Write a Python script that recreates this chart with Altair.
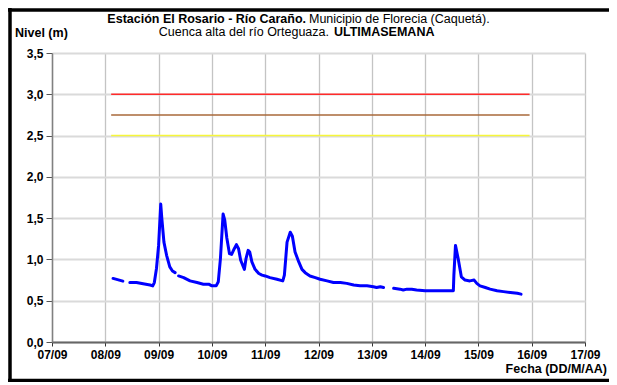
import altair as alt
import pandas as pd

# Time in days of September (e.g. 8.5 = 08/09 12:00), level in metres
seg1_t = [8.145, 8.33]
seg1_v = [0.77, 0.737]
seg2_t = [8.46, 8.585, 8.71, 8.84, 8.89, 8.92, 8.96, 9.0, 9.04, 9.06, 9.10, 9.15, 9.21, 9.26, 9.31]
seg2_v = [0.72, 0.72, 0.705, 0.69, 0.68, 0.72, 0.89, 1.17, 1.67, 1.50, 1.21, 1.05, 0.91, 0.86, 0.84]
seg3_t = [9.375, 9.47, 9.59, 9.72, 9.84, 9.94, 10.0, 10.08, 10.12, 10.16, 10.21, 10.24, 10.28, 10.33,
          10.37, 10.42, 10.46, 10.5, 10.54, 10.61, 10.64, 10.68, 10.71, 10.75, 10.81, 10.88, 10.94,
          11.0, 11.09, 11.22, 11.33, 11.36, 11.41, 11.47, 11.51, 11.56, 11.63, 11.69, 11.75, 11.84,
          11.94, 12.03, 12.16, 12.28, 12.41, 12.53, 12.66, 12.78, 12.91, 13.03, 13.09, 13.16, 13.22]
seg3_v = [0.80, 0.78, 0.74, 0.72, 0.70, 0.70, 0.68, 0.68, 0.73, 1.01, 1.55, 1.48, 1.26, 1.07,
          1.06, 1.13, 1.18, 1.13, 0.99, 0.88, 1.01, 1.11, 1.09, 0.97, 0.88, 0.83, 0.81,
          0.80, 0.78, 0.76, 0.74, 0.81, 1.21, 1.33, 1.28, 1.09, 0.97, 0.88, 0.84, 0.80,
          0.78, 0.76, 0.74, 0.72, 0.72, 0.71, 0.69, 0.68, 0.68, 0.67, 0.66, 0.67, 0.66]
seg4_t = [13.41, 13.53, 13.59, 13.66, 13.75, 13.84, 14.0, 14.16, 14.28, 14.53, 14.54, 14.57, 14.62,
          14.68, 14.75, 14.84, 14.92, 14.97, 15.03, 15.13, 15.22, 15.35, 15.47, 15.6, 15.73, 15.8]
seg4_v = [0.65, 0.64, 0.63, 0.64, 0.64, 0.63, 0.62, 0.62, 0.62, 0.62, 0.81, 1.17, 1.01,
          0.79, 0.75, 0.74, 0.75, 0.71, 0.68, 0.66, 0.64, 0.62, 0.61, 0.60, 0.59, 0.58]

thr_levels = [3.0, 2.75, 2.5]
thr_names = ["rojo", "naranja", "amarillo"]
thr_colors = ["#ff2a2a", "#a8693a", "#f6f63a"]
thr_start = 8.11
thr_end = 15.96

x_ticks = list(range(7, 18))
y_ticks = [0, 0.5, 1.0, 1.5, 2.0, 2.5, 3.0, 3.5]

title1_bold = "Estación El Rosario - Río Caraño."
title1_norm = "Municipio de Florecia (Caquetá)."
title2_norm = "Cuenca alta del río Orteguaza."
title2_bold = "ULTIMASEMANA"
y_title = "Nivel (m)"
x_title = "Fecha (DD/M/AA)"

FONT = "Liberation Sans"

rows = []
for sid, (ts, vs) in enumerate([(seg1_t, seg1_v), (seg2_t, seg2_v), (seg3_t, seg3_v), (seg4_t, seg4_v)]):
    for t, v in zip(ts, vs):
        rows.append({"t": t, "v": v, "seg": sid})
df = pd.DataFrame(rows)

thr_rows = []
for name, lvl in zip(thr_names, thr_levels):
    thr_rows.append({"t": thr_start, "t2": thr_end, "v": lvl, "name": name})
thr_df = pd.DataFrame(thr_rows)

xscale = alt.Scale(domain=[7, 17], nice=False, zero=False)
yscale = alt.Scale(domain=[0, 3.5], nice=False)

xaxis = alt.Axis(values=x_ticks, title=None,
                 labelExpr="(datum.value < 10 ? '0' : '') + datum.value + '/09'",
                 labelFlush=False, labelOverlap=False,
                 grid=True, gridColor="#c4c4c4", gridWidth=1.3,
                 domainColor="#666666", domainWidth=2, tickColor="#333333", tickSize=4,
                 labelFont=FONT, labelFontSize=12, labelFontWeight="bold", labelColor="black",
                 labelPadding=3)
yaxis = alt.Axis(values=y_ticks, title=None,
                 labelExpr="replace(format(datum.value, '.1f'), '.', ',')",
                 labelFlush=False, labelOverlap=False,
                 grid=True, gridColor="#dadada", gridWidth=2,
                 domainColor="#808080", domainWidth=1.5, tickColor="#555555", tickSize=6,
                 labelFont=FONT, labelFontSize=12, labelFontWeight="bold", labelColor="black",
                 labelPadding=3)

base_line = alt.Chart(df).mark_line(color="#0000ff", strokeWidth=3, strokeJoin="round", strokeCap="round").encode(
    x=alt.X("t:Q", scale=xscale, axis=xaxis),
    y=alt.Y("v:Q", scale=yscale, axis=yaxis),
    detail="seg:N",
)

thr = alt.Chart(thr_df).mark_rule(strokeWidth=1.6).encode(
    x=alt.X("t:Q", scale=xscale),
    x2="t2:Q",
    y=alt.Y("v:Q", scale=yscale),
    color=alt.Color("name:N", scale=alt.Scale(domain=thr_names, range=thr_colors), legend=None),
)

def txt(s, x, y, bold=False, align="left", size=12.5):
    return alt.Chart(pd.DataFrame({"s": [s]})).mark_text(
        font=FONT, fontSize=size, fontWeight="bold" if bold else "normal",
        align=align, baseline="middle", color="black"
    ).encode(text="s:N", x=alt.value(x), y=alt.value(y))

texts = [
    txt(title1_bold, 254, -34, bold=True, align="right"),
    txt(title1_norm, 257, -34, bold=False, align="left"),
    txt(title2_norm, 277, -21, bold=False, align="right"),
    txt(title2_bold, 282, -21, bold=True, align="left"),
    txt(y_title, -37, -20, bold=True, align="left"),
    txt(x_title, 555, 316, bold=True, align="right"),
]

one = pd.DataFrame({"a": [0]})
frame_top = alt.Chart(one).mark_rule(color="black", strokeWidth=3.5).encode(
    x=alt.value(-44), x2=alt.value(570), y=alt.value(-43))
frame_bottom = alt.Chart(one).mark_rule(color="black", strokeWidth=3.5).encode(
    x=alt.value(-44), x2=alt.value(570), y=alt.value(327.5))
frame_left = alt.Chart(one).mark_rule(color="black", strokeWidth=3.5).encode(
    x=alt.value(-42), y=alt.value(-45), y2=alt.value(330))

chart = alt.layer(base_line, thr, *texts, frame_top, frame_bottom, frame_left).properties(
    width=533, height=289,
    autosize=alt.AutoSizeParams(type="none"),
    padding={"left": 44, "top": 45, "right": 24, "bottom": 40},
    background="white",
).configure_view(strokeWidth=0)

chart.save("out.html", embed_options={"renderer": "svg", "actions": False})
